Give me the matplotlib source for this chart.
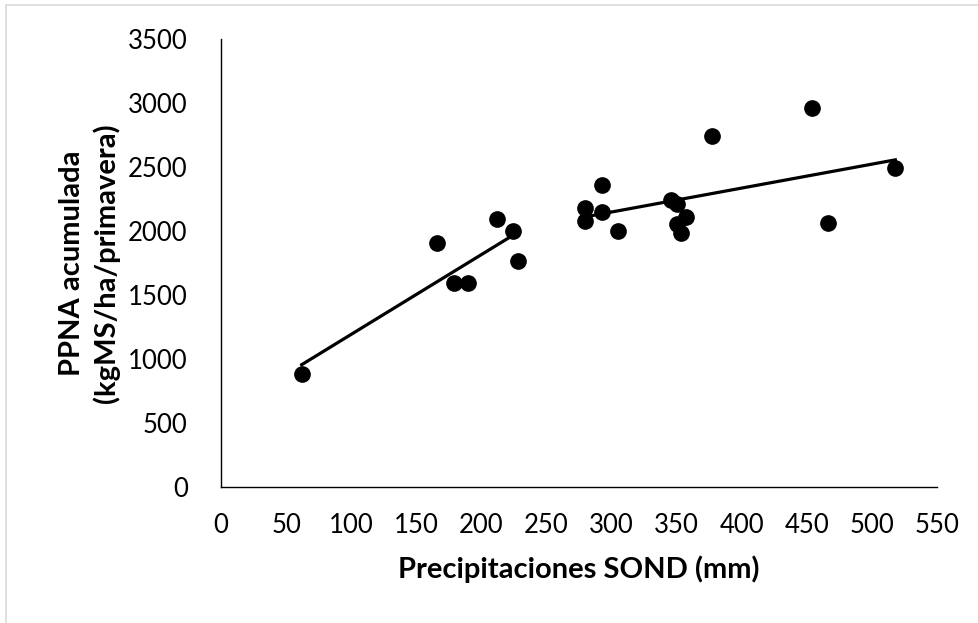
import matplotlib.pyplot as plt
import numpy as np
from matplotlib.patches import Rectangle

# Group 1: low rainfall years
precip_low = [62, 166, 179, 190, 212, 224, 228]
ppna_low = [885, 1909, 1592, 1592, 2093, 2002, 1768]

# Group 2: higher rainfall years
precip_high = [280, 280, 293, 293, 305, 346, 350, 350, 353, 357, 377, 454, 466, 518]
ppna_high = [2176, 2077, 2358, 2145, 2002, 2241, 2210, 2054, 1986, 2106, 2742, 2960, 2064, 2493]

x_ticks = list(range(0, 551, 50))
y_ticks = list(range(0, 3501, 500))

plt.rcParams["font.family"] = ["Lato", "DejaVu Sans"]

fig = plt.figure(figsize=(9.79, 6.23), dpi=100)
ax = fig.add_axes([0.2257, 0.2183, 0.9571 - 0.2257, 0.9374 - 0.2183])

# light chart-area border like the Excel export
fig.patches.append(Rectangle((0.0066, -0.01), 1.2, 1.002, transform=fig.transFigure,
                             fill=False, edgecolor="#d9d9d9", linewidth=1.2))

ax.scatter(precip_low, ppna_low, s=11**2, color="black", zorder=3)
ax.scatter(precip_high, ppna_high, s=11**2, color="black", zorder=3)

# linear trend lines for each group
for xs, ys in [(precip_low, ppna_low), (precip_high, ppna_high)]:
    xs = np.array(xs, dtype=float)
    ys = np.array(ys, dtype=float)
    m, b = np.polyfit(xs, ys, 1)
    xl = np.array([xs.min(), xs.max()])
    ax.plot(xl, m * xl + b, color="black", linewidth=2.3, zorder=2)

ax.set_xlim(0, 550)
ax.set_ylim(0, 3500)
ax.set_xticks(x_ticks)
ax.set_yticks(y_ticks)
ax.tick_params(length=0, labelsize=18.5, colors="black")
ax.tick_params(axis="x", pad=19)
ax.tick_params(axis="y", pad=24)

for side in ["top", "right"]:
    ax.spines[side].set_visible(False)
for side in ["left", "bottom"]:
    ax.spines[side].set_linewidth(1.0)
    ax.spines[side].set_color("black")

ax.set_xlabel("Precipitaciones SOND (mm)", fontsize=21, fontweight="bold", labelpad=12)
ax.set_ylabel("PPNA acumulada\n(kgMS/ha/primavera)", fontsize=21, fontweight="bold",
              labelpad=6, linespacing=1.3)

plt.savefig("out.png", dpi=100)
